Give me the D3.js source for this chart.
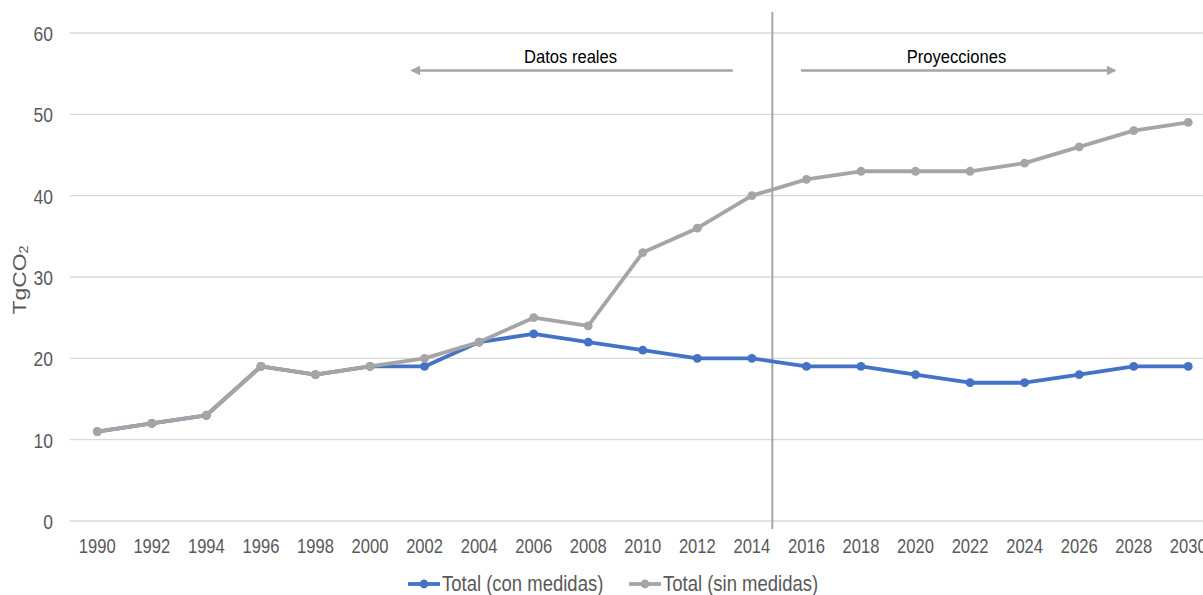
<!DOCTYPE html>
<html>
<head>
<meta charset="utf-8">
<script src="https://cdn.jsdelivr.net/npm/d3@7"></script>
<style>
  html, body { margin: 0; padding: 0; background: #fff; overflow: hidden; }
  svg { display: block; font-family: "Liberation Sans", Arial, sans-serif; }
</style>
</head>
<body>
<svg id="chart" width="1203" height="595"></svg>
<script>
// Emission series (TgCO2), one value per even year
const years = ["1990","1992","1994","1996","1998","2000","2002","2004","2006","2008","2010",
               "2012","2014","2016","2018","2020","2022","2024","2026","2028","2030"];
const conMedidas = [11, 12, 13, 19, 18, 19, 19, 22, 23, 22, 21, 20, 20, 19, 19, 18, 17, 17, 18, 19, 19];
const sinMedidas = [11, 12, 13, 19, 18, 19, 20, 22, 25, 24, 33, 36, 40, 42, 43, 43, 43, 44, 46, 48, 49];
const yTicks = [0, 10, 20, 30, 40, 50, 60];
const seriesNames = ["Total (con medidas)", "Total (sin medidas)"];
const periodLabels = ["Datos reales", "Proyecciones"];

const svg = d3.select("#chart");
const W = 1203, H = 595;
const margin = { left: 70, top: 33, bottom: 74 };
const textGrey = "#595959";

const x = d3.scaleBand()
  .domain(years)
  .range([margin.left, margin.left + 54.55 * years.length])
  .paddingInner(0).paddingOuter(0);
const xc = d => x(d) + x.bandwidth() / 2;

const y = d3.scaleLinear().domain([0, 60]).range([H - margin.bottom, margin.top]);

// year value -> pixel, for annotations placed between categories
const step = xc(years[1]) - xc(years[0]);
const yearToX = v => xc(years[0]) + (v - +years[0]) / 2 * step;

// text in this chart uses a tall, slightly condensed look: stretch glyphs vertically
function tallText(parent, tx, ty, str, size, k, anchor, fill) {
  const g = parent.append("g").attr("transform", `translate(${tx},${ty}) scale(1,${k})`);
  return g.append("text")
    .attr("text-anchor", anchor || "start")
    .attr("font-size", size)
    .attr("fill", fill || textGrey)
    .text(str);
}
function stretchAxisText(sel, size, k) {
  sel.attr("font-size", size)
    .attr("font-family", "'Liberation Sans', Arial, sans-serif")
    .attr("fill", textGrey)
    .attr("y", 0)
    .attr("dy", "0.36em")
    .attr("transform", `scale(1,${k})`);
}

// gridlines
svg.append("g")
  .selectAll("line")
  .data(yTicks)
  .join("line")
  .attr("x1", margin.left).attr("x2", W)
  .attr("y1", d => y(d)).attr("y2", d => y(d))
  .attr("stroke", "#d9d9d9").attr("stroke-width", 1.3);

// y axis labels
const yAxis = d3.axisLeft(y).tickValues(yTicks).tickSize(0).tickPadding(0);
svg.append("g")
  .attr("transform", `translate(${margin.left - 17},0)`)
  .call(yAxis)
  .call(g => g.select(".domain").remove())
  .call(g => stretchAxisText(g.selectAll("text"), 17.5, 1.2));

// x axis labels
const xAxis = d3.axisBottom(x).tickSize(0).tickPadding(0);
svg.append("g")
  .attr("transform", `translate(0,${y(0) + 24.5})`)
  .call(xAxis)
  .call(g => g.select(".domain").remove())
  .call(g => stretchAxisText(g.selectAll("text"), 16.6, 1.25));

// y axis title
const yTitle = svg.append("g")
  .attr("transform", `translate(26,${(y(0) + y(60)) / 2 + 3}) rotate(-90) scale(1.2,1)`)
  .append("text")
  .attr("text-anchor", "middle")
  .attr("fill", textGrey).attr("font-size", 19);
yTitle.append("tspan").text("TgCO");
yTitle.append("tspan").attr("font-size", 12).attr("dy", 2).text("2");

// divider between observed data and projections
const xDiv = yearToX(2014.75);
svg.append("line")
  .attr("x1", xDiv).attr("x2", xDiv)
  .attr("y1", 12).attr("y2", y(0) + 8)
  .attr("stroke", "#a6a6a6").attr("stroke-width", 2);

// arrows
svg.append("defs").append("marker")
  .attr("id", "arrowHead")
  .attr("viewBox", "0 0 10 10")
  .attr("refX", 8).attr("refY", 5)
  .attr("markerWidth", 4).attr("markerHeight", 4)
  .attr("orient", "auto-start-reverse")
  .append("path").attr("d", "M0,0 L10,5 L0,10 Z").attr("fill", "#a6a6a6");

const arrowY = 70.5;
svg.append("line")
  .attr("x1", yearToX(2013.3)).attr("x2", yearToX(2001.55))
  .attr("y1", arrowY).attr("y2", arrowY)
  .attr("stroke", "#a6a6a6").attr("stroke-width", 2.4)
  .attr("marker-end", "url(#arrowHead)");
svg.append("line")
  .attr("x1", yearToX(2015.8)).attr("x2", yearToX(2027.3))
  .attr("y1", arrowY).attr("y2", arrowY)
  .attr("stroke", "#a6a6a6").attr("stroke-width", 2.4)
  .attr("marker-end", "url(#arrowHead)");

tallText(svg, yearToX(2007.35), 63, periodLabels[0], 16.6, 1.1, "middle", "#000");
tallText(svg, yearToX(2021.5), 63, periodLabels[1], 16.6, 1.1, "middle", "#000");

// series
const series = [
  { name: seriesNames[0], values: conMedidas, color: "#4472c4" },
  { name: seriesNames[1], values: sinMedidas, color: "#a5a5a5" }
];
const line = d3.line().x((d, i) => xc(years[i])).y(d => y(d));

series.forEach(s => {
  const g = svg.append("g");
  g.append("path")
    .attr("d", line(s.values))
    .attr("fill", "none").attr("stroke", s.color)
    .attr("stroke-width", 3.8).attr("stroke-linejoin", "round");
  g.selectAll("circle")
    .data(s.values)
    .join("circle")
    .attr("cx", (d, i) => xc(years[i])).attr("cy", d => y(d))
    .attr("r", 4.4).attr("fill", s.color);
});

// legend
const legendY = 584;
const legendItems = [
  { x: 408, s: series[0] },
  { x: 629, s: series[1] }
];
legendItems.forEach(it => {
  const g = svg.append("g").attr("transform", `translate(${it.x},${legendY})`);
  g.append("line").attr("x1", 0).attr("x2", 32).attr("y1", 0).attr("y2", 0)
    .attr("stroke", it.s.color).attr("stroke-width", 3.8);
  g.append("circle").attr("cx", 16).attr("cy", 0).attr("r", 4.4).attr("fill", it.s.color);
  tallText(g, 34, 6.5, it.s.name, 18.5, 1.15, "start", textGrey);
});
</script>
</body>
</html>
